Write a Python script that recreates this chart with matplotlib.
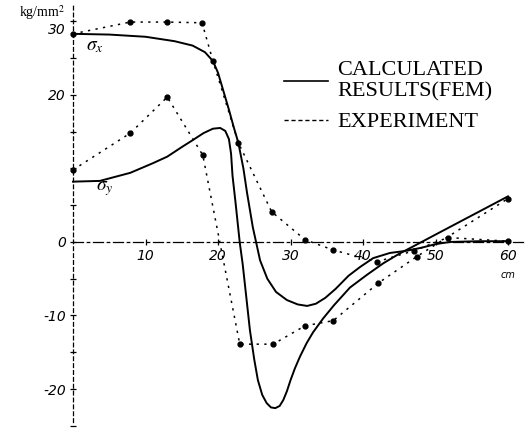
import matplotlib
matplotlib.use("Agg")
import matplotlib.pyplot as plt
from matplotlib.lines import Line2D
from matplotlib.transforms import ScaledTranslation

plt.rcParams['mathtext.fontset'] = 'stix'

# FEM results (solid curves), x in cm, stress in kg/mm^2
fem_sx_x = [0, 5, 10, 14, 16.5, 18.2, 19.3, 20.0, 20.6, 21.5, 22.2, 22.8, 23.5, 24.0,
            24.8, 25.8, 26.8, 28.0, 29.5, 31.0, 32.3, 33.5, 34.8, 36.2, 38.0, 39.6,
            41.4, 43.7, 46.0, 48.0, 50.0, 52.0, 56.0, 60.0]
fem_sx_y = [28.3, 28.2, 27.9, 27.3, 26.7, 25.8, 24.6, 23.0, 21.0, 18.0, 15.5, 13.5, 10.0, 6.7,
            2.0, -2.5, -5.0, -6.8, -7.9, -8.5, -8.7, -8.4, -7.6, -6.4, -4.6, -3.4,
            -2.2, -1.5, -1.2, -0.8, -0.3, 0.0, 0.1, 0.1]

fem_sy_x = [0, 3.7, 7.9, 11, 13, 15, 16.6, 18, 19.3, 20.3, 21.0, 21.5, 21.8, 22.0, 22.4,
            23.0, 23.4, 23.9, 24.4, 25.0, 25.5, 26.1, 26.7, 27.3, 27.9, 28.5, 29.0,
            29.5, 30.0, 30.6, 31.3, 32.2, 33.1, 34.5, 36.0, 38.2, 40.5, 42.8, 45.0, 47.9,
            50.0, 55.0, 60.0]
fem_sy_y = [8.2, 8.3, 9.4, 10.7, 11.6, 12.9, 13.9, 14.8, 15.4, 15.5, 15.1, 14.0, 12.0, 9.0, 5.5,
            -0.1, -3.0, -7.5, -12.0, -16.0, -18.8, -20.8, -21.9, -22.5, -22.6, -22.3, -21.5,
            -20.3, -18.8, -17.2, -15.6, -13.8, -12.3, -10.4, -8.6, -6.2, -4.5, -2.9, -1.6, -0.1,
            1.0, 3.6, 6.2]

# experiment (dotted with points)
exp_sx_x = [0, 7.9, 13.0, 17.8, 19.3, 22.8, 27.4, 32.0, 35.9, 41.9, 47.0, 51.7, 60.0]
exp_sx_y = [28.3, 29.9, 29.9, 29.8, 24.6, 13.5, 4.1, 0.3, -1.1, -2.7, -1.2, 0.6, 0.1]

exp_sy_x = [0, 7.9, 13.0, 17.9, 23.0, 27.6, 32.0, 35.9, 42.1, 47.4, 60.0]
exp_sy_y = [9.8, 14.8, 19.7, 11.8, -13.9, -13.9, -11.4, -10.7, -5.6, -2.0, 5.9]

xticks = [10, 20, 30, 40, 50, 60]
xtick_labels = ['10', '20', '30', '40', '50', '60']
yticks = [-20, -10, 0, 20, 30]
ytick_labels = ['-20', '-10', '0', '20', '30']
yminor = [-25, -15, -5, 5, 10, 15, 25]

fig = plt.figure(figsize=(5.3, 4.28), dpi=100)
ax = fig.add_axes([0, 0, 1, 1])
ax.set_xlim(-10.07, 63.03)
ax.set_ylim(-25.3, 32.9)

exp_style = dict(color='black', lw=1.1, linestyle=(0, (1.5, 3.5)),
                 marker='o', markersize=3.5, markerfacecolor='black')
ax.plot(fem_sx_x, fem_sx_y, color='black', lw=1.4)
ax.plot(fem_sy_x, fem_sy_y, color='black', lw=1.4)
ax.plot(exp_sx_x, exp_sx_y, **exp_style)
ax.plot(exp_sy_x, exp_sy_y, **exp_style)

# axes through the origin, dash-dot like the drawing
for side in ['top', 'right']:
    ax.spines[side].set_visible(False)
ax.spines['left'].set_position(('data', 0))
ax.spines['bottom'].set_position(('data', 0))
ax.spines['left'].set_bounds(-24.5, 32.5)
ax.spines['bottom'].set_bounds(0, 62.5)
ax.spines['left'].set_linestyle((0, (3, 2.5)))
ax.spines['bottom'].set_linestyle((0, (8, 3, 2, 3)))
ax.spines['left'].set_linewidth(0.9)
ax.spines['bottom'].set_linewidth(0.9)

ax.set_xticks(xticks)
ax.set_xticklabels(xtick_labels, fontstyle='italic', fontsize=10)
ax.set_yticks(yticks)
ax.set_yticklabels(ytick_labels, fontstyle='italic', fontsize=10)
ax.set_yticks(yminor, minor=True)
ax.tick_params(axis='both', which='both', direction='inout', length=4, width=0.9, pad=3)

# the top label sits a little low in the drawing, under the unit
top_lbl = ax.get_yticklabels()[-1]
top_lbl.set_transform(top_lbl.get_transform() + ScaledTranslation(0, -5 / 72, fig.dpi_scale_trans))

ax.annotate('cm', xy=(xticks[-1], 0), xytext=(0, -24), textcoords='offset points',
            ha='center', va='center', fontsize=7, fontstyle='italic')
ax.annotate('kg/mm$^2$', xy=(0, 32.9), xytext=(-6, -2), textcoords='offset points',
            ha='right', va='top', fontsize=10, family='Liberation Serif')

ax.text(3.0, 26.7, r'$\sigma_x$', fontsize=14, ha='center', va='center')
ax.text(4.4, 7.2, r'$\sigma_y$', fontsize=14, ha='center', va='center')

handles = [Line2D([], [], color='black', lw=1.2),
           Line2D([], [], color='black', lw=1.0, linestyle=(0, (3, 2)))]
ax.legend(handles, ['CALCULATED\nRESULTS(FEM)', 'EXPERIMENT'],
          loc='upper left', bbox_to_anchor=(0.535, 0.858), frameon=False,
          prop={'family': 'Liberation Serif', 'size': 16},
          handlelength=2.0, handletextpad=0.4, labelspacing=0.45,
          borderpad=0, borderaxespad=0)

fig.savefig('out.png', dpi=100)
